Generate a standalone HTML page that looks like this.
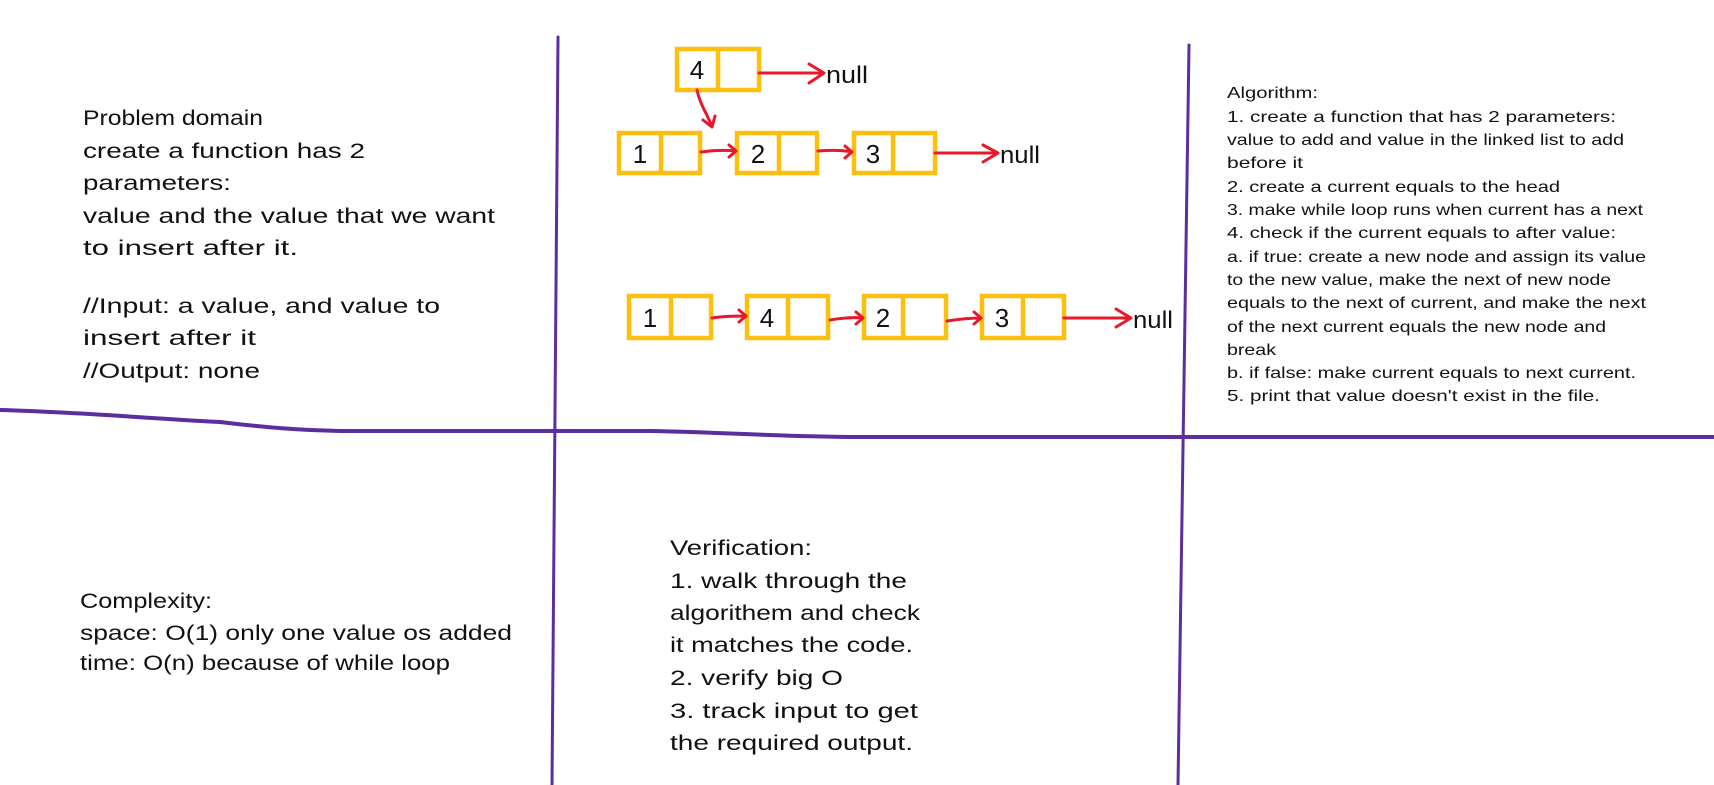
<!DOCTYPE html>
<html><head><meta charset="utf-8"><style>
html,body{margin:0;padding:0;background:#fff;}
svg{display:block;}
text{font-family:"Liberation Sans",sans-serif;fill:#111;}
.l{font-size:21px;}
.r{font-size:16px;}
.n{font-size:26px;text-anchor:middle;}
.nl{font-size:24px;fill:#e8182a;}
</style></head><body>
<svg width="1714" height="785" viewBox="0 0 1714 785" xmlns="http://www.w3.org/2000/svg">
<g stroke="#5b2d9e" stroke-width="3" fill="none" stroke-linecap="round">
<path d="M558,37 L552,785"/>
<path d="M1189,45 L1178,785"/>
<path d="M0,410 C80,412 140,418 220,422 C270,428 300,430 340,431 L650,431 C720,432 780,437 860,437 L1714,437" stroke-width="4"/>
</g>
<g class="l">
<text x="83" y="125" textLength="180" lengthAdjust="spacingAndGlyphs">Problem domain</text>
<text x="83" y="158" textLength="282" lengthAdjust="spacingAndGlyphs">create a function has 2</text>
<text x="83" y="190" textLength="148" lengthAdjust="spacingAndGlyphs">parameters:</text>
<text x="83" y="223" textLength="412" lengthAdjust="spacingAndGlyphs">value and the value that we want</text>
<text x="83" y="255" textLength="215" lengthAdjust="spacingAndGlyphs">to insert after it.</text>
<text x="83" y="313" textLength="357" lengthAdjust="spacingAndGlyphs">//Input: a value, and value to</text>
<text x="83" y="345" textLength="173" lengthAdjust="spacingAndGlyphs">insert after it</text>
<text x="83" y="378" textLength="177" lengthAdjust="spacingAndGlyphs">//Output: none</text>
<text x="80" y="608" textLength="132" lengthAdjust="spacingAndGlyphs">Complexity:</text>
<text x="80" y="640" textLength="432" lengthAdjust="spacingAndGlyphs">space: O(1) only one value os added</text>
<text x="80" y="670" textLength="370" lengthAdjust="spacingAndGlyphs">time: O(n) because of while loop</text>
<text x="670" y="555" textLength="142" lengthAdjust="spacingAndGlyphs">Verification:</text>
<text x="670" y="588" textLength="237" lengthAdjust="spacingAndGlyphs">1. walk through the</text>
<text x="670" y="620" textLength="250" lengthAdjust="spacingAndGlyphs">algorithem and check</text>
<text x="670" y="652" textLength="243" lengthAdjust="spacingAndGlyphs">it matches the code.</text>
<text x="670" y="685" textLength="173" lengthAdjust="spacingAndGlyphs">2. verify big O</text>
<text x="670" y="718" textLength="248" lengthAdjust="spacingAndGlyphs">3. track input to get</text>
<text x="670" y="750" textLength="243" lengthAdjust="spacingAndGlyphs">the required output.</text>
</g>
<g class="r">
<text x="1227" y="98" textLength="91" lengthAdjust="spacingAndGlyphs">Algorithm:</text>
<text x="1227" y="122" textLength="389" lengthAdjust="spacingAndGlyphs">1. create a function that has  2 parameters:</text>
<text x="1227" y="145" textLength="397" lengthAdjust="spacingAndGlyphs">value to add and value in the linked list to add</text>
<text x="1227" y="168" textLength="76" lengthAdjust="spacingAndGlyphs">before it</text>
<text x="1227" y="192" textLength="333" lengthAdjust="spacingAndGlyphs">2. create a current equals to the head</text>
<text x="1227" y="215" textLength="416" lengthAdjust="spacingAndGlyphs">3. make while loop runs when current has a next</text>
<text x="1227" y="238" textLength="389" lengthAdjust="spacingAndGlyphs">4. check if the current equals to after value:</text>
<text x="1227" y="262" textLength="419" lengthAdjust="spacingAndGlyphs">a. if true: create a new node and assign its value</text>
<text x="1227" y="285" textLength="384" lengthAdjust="spacingAndGlyphs">to the new value, make the next of new node</text>
<text x="1227" y="308" textLength="419" lengthAdjust="spacingAndGlyphs">equals to the next of current, and make the next</text>
<text x="1227" y="332" textLength="379" lengthAdjust="spacingAndGlyphs">of the next current equals the new node and</text>
<text x="1227" y="355" textLength="49" lengthAdjust="spacingAndGlyphs">break</text>
<text x="1227" y="378" textLength="409" lengthAdjust="spacingAndGlyphs">b. if false: make current equals to next current.</text>
<text x="1227" y="401" textLength="373" lengthAdjust="spacingAndGlyphs">5. print that value doesn't exist in the file.</text>
</g>
<!-- nodes -->
<g stroke="#fbbf10" stroke-width="4.5" fill="none" stroke-linecap="round">
<rect x="677" y="49" width="82" height="41"/><line x1="718" y1="49" x2="718" y2="90"/>
<rect x="619" y="133" width="81" height="40"/><line x1="661" y1="133" x2="661" y2="173"/>
<rect x="737" y="133" width="80" height="40"/><line x1="779" y1="133" x2="779" y2="173"/>
<rect x="854" y="133" width="81" height="40"/><line x1="893" y1="133" x2="893" y2="173"/>
<rect x="629" y="296" width="82" height="42"/><line x1="671" y1="296" x2="671" y2="338"/>
<rect x="747" y="296" width="81" height="42"/><line x1="788" y1="296" x2="788" y2="338"/>
<rect x="864" y="296" width="82" height="42"/><line x1="903" y1="296" x2="903" y2="338"/>
<rect x="982" y="296" width="82" height="42"/><line x1="1023" y1="296" x2="1023" y2="338"/>
</g>
<g class="n">
<text x="697" y="79">4</text>
<text x="640" y="163">1</text>
<text x="758" y="163">2</text>
<text x="873" y="163">3</text>
<text x="650" y="327">1</text>
<text x="767" y="327">4</text>
<text x="883" y="327">2</text>
<text x="1002" y="327">3</text>
</g>
<g stroke="#e8182a" stroke-width="3" fill="none" stroke-linecap="round" stroke-linejoin="round">
<path d="M759,73 L822,73 M809,64 L824,73 L809,83"/>
<path d="M697,90 C700,105 708,115 712,127 M703,120 L712,127 L715,116"/>
<path d="M701,152 C715,150 725,150 736,151 M729,145 L736,151 L729,157"/>
<path d="M818,151 C830,150 842,150 852,152 M845,146 L852,152 L845,158"/>
<path d="M935,153 L997,153 M983,145 L998,153 L983,162"/>
<path d="M712,318 C725,316 735,316 746,316 M739,310 L746,316 L739,322"/>
<path d="M830,320 C842,318 852,317 863,318 M856,312 L863,318 L856,324"/>
<path d="M947,321 C960,319 970,318 981,318 M974,312 L981,318 L974,324"/>
<path d="M1064,318 L1130,318 M1116,309 L1131,318 L1116,327"/>
</g>
<g class="nl">
<text x="826" y="83" textLength="42" lengthAdjust="spacingAndGlyphs">null</text>
<text x="1000" y="163" textLength="40" lengthAdjust="spacingAndGlyphs">null</text>
<text x="1133" y="328" textLength="40" lengthAdjust="spacingAndGlyphs">null</text>
</g>
</svg>
</body></html>
